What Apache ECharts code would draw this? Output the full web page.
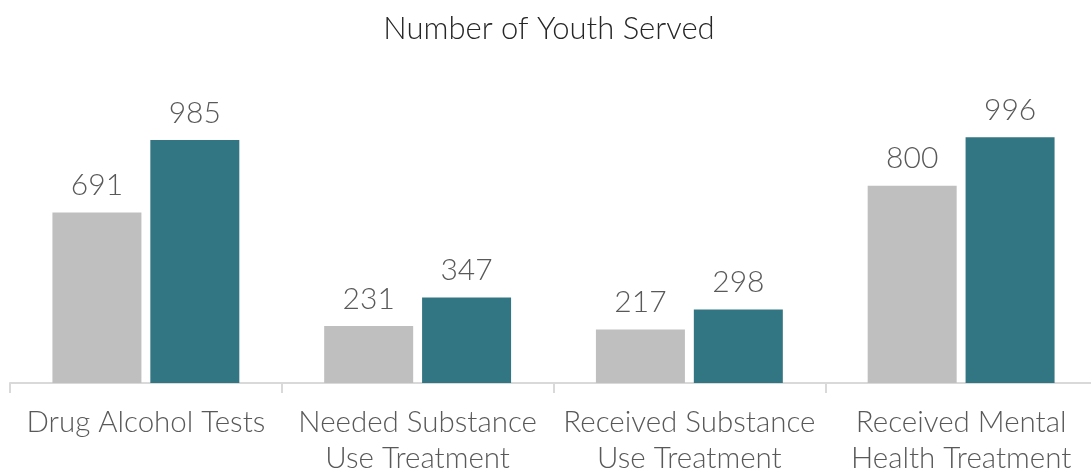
<!DOCTYPE html>
<html>
<head>
<meta charset="utf-8">
<script src="https://cdn.jsdelivr.net/npm/echarts@6/dist/echarts.min.js"></script>
<style>
  html, body { margin: 0; padding: 0; background: #ffffff; }
  #chart { width: 1091px; height: 472px; }
</style>
</head>
<body>
<div id="chart"></div>
<script>
// Youth services counts, two reporting periods per service category
const categories = [
  'Drug Alcohol Tests',
  'Needed Substance\nUse Treatment',
  'Received Substance\nUse Treatment',
  'Received Mental\nHealth Treatment'
];
const seriesA = [691, 231, 217, 800];
const seriesB = [985, 347, 298, 996];

const chart = echarts.init(document.getElementById('chart'));
const labelStyle = {
  show: true,
  position: 'top',
  distance: 12,
  fontFamily: 'Lato',
  fontWeight: 300,
  fontSize: 30,
  color: '#595959'
};

chart.setOption({
  animation: false,
  title: {
    text: 'Number of Youth Served',
    left: 544,
    top: 8,
    textAlign: 'center',
    textStyle: {
      fontFamily: 'Lato',
      fontWeight: 300,
      fontSize: 31,
      color: '#262626'
    }
  },
  grid: {
    left: 10,
    top: 87,
    width: 1087,
    height: 296,
    containLabel: false,
    outerBoundsMode: 'none'
  },
  xAxis: {
    type: 'category',
    data: categories,
    axisLine: { lineStyle: { color: '#d9d9d9', width: 2 } },
    axisTick: { show: true, length: 10, lineStyle: { color: '#d9d9d9', width: 2 } },
    axisLabel: {
      fontFamily: 'Lato',
      fontWeight: 300,
      fontSize: 29.5,
      color: '#595959',
      lineHeight: 36,
      margin: 21,
      interval: 0
    }
  },
  yAxis: {
    type: 'value',
    min: 0,
    max: 1200,
    show: false,
    splitLine: { show: false }
  },
  series: [
    {
      type: 'bar',
      data: seriesA,
      barWidth: 89,
      barGap: '10%',
      itemStyle: { color: '#bfbfbf' },
      label: labelStyle
    },
    {
      type: 'bar',
      data: seriesB,
      barWidth: 89,
      barGap: '10%',
      itemStyle: { color: '#337683' },
      label: labelStyle
    }
  ]
});
</script>
</body>
</html>
